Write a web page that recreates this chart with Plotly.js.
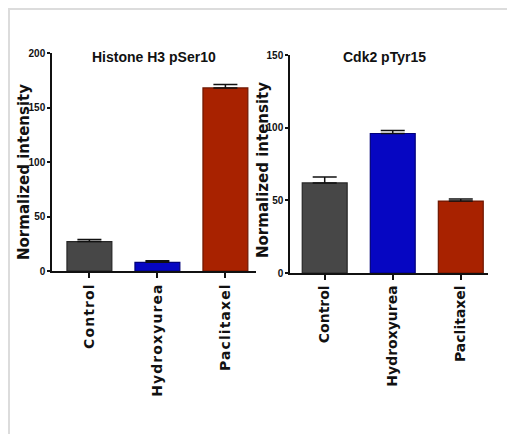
<!DOCTYPE html>
<html>
<head>
<meta charset="utf-8">
<script src="https://cdn.plot.ly/plotly-3.0.1.min.js"></script>
<style>
  html, body { margin: 0; padding: 0; background: #fff; }
  #wrap { position: relative; width: 507px; height: 434px; }
  #chart { width: 507px; height: 434px; }
  #frame { position: absolute; left: 8px; top: 8px; right: 0; bottom: 0;
           border-top: 2px solid #dcdcdc; border-left: 2px solid #dcdcdc; pointer-events: none; }
  #chart .xtick text { letter-spacing: 1.1px; }
</style>
</head>
<body>
<div id="wrap">
  <div id="chart"></div>
  <div id="frame"></div>
</div>
<script>
// Data
const categories = ["Control", "Hydroxyurea", "Paclitaxel"];
const barColors = ["#474747", "#0606c2", "#a82200"];
const lineColors = ["#262626", "#00007a", "#6e1600"];

const h3Title = "Histone H3 pSer10";
const h3Values = [27, 8, 168];
const h3Errors = [2, 1.5, 3];

const cdkTitle = "Cdk2 pTyr15";
const cdkValues = [62, 96, 49.5];
const cdkErrors = [4, 2, 1.5];

const yTitle = "Normalized intensity";
const h3Ticks = [0, 50, 100, 150, 200];
const cdkTicks = [0, 50, 100, 150];

function barTrace(values, errors, xa, ya) {
  return {
    type: "bar",
    x: categories,
    y: values,
    xaxis: xa, yaxis: ya,
    width: 0.66,
    marker: { color: barColors, line: { color: lineColors, width: 1.2 } },
    error_y: { type: "data", symmetric: false, array: errors,
               arrayminus: values.map(() => 0), color: "#111", thickness: 1.5, width: 12 },
    hoverinfo: "x+y",
    showlegend: false
  };
}

const tickFont = { family: "Liberation Sans, Arial, sans-serif", size: 10, color: "#111", weight: "bold" };
const catFont = { family: "DejaVu Sans, sans-serif", size: 14, color: "#111", weight: "bold" };
const yTitleFont = { family: "DejaVu Sans, sans-serif", size: 15, color: "#111", weight: "bold" };
const titleFont = { family: "Liberation Sans, Arial, sans-serif", size: 14, color: "#111", weight: "bold" };

function xAxis(domain, range, anchor) {
  return {
    domain: domain, range: range, anchor: anchor,
    type: "category",
    showline: true, linecolor: "#111", linewidth: 1.5,
    ticks: "outside", ticklen: 5, tickwidth: 1.5, tickcolor: "#111",
    tickangle: -90, tickfont: catFont,
    showgrid: false, zeroline: false, fixedrange: true
  };
}
function yAxis(domain, range, ticks, anchor) {
  return {
    domain: domain, range: range, anchor: anchor,
    tickvals: ticks, ticktext: ticks.map(String),
    showline: true, linecolor: "#111", linewidth: 1.5,
    ticks: "outside", ticklen: 3, tickwidth: 1.5, tickcolor: "#111",
    tickfont: tickFont,
    showgrid: false, zeroline: false, fixedrange: true
  };
}

const W = 507, H = 434;
const layout = {
  width: W, height: H,
  margin: { l: 0, r: 0, t: 0, b: 0 },
  paper_bgcolor: "#fff", plot_bgcolor: "#fff",
  xaxis: xAxis([52 / W, 256 / W], [-0.55, 2.45], "y"),
  yaxis: yAxis([1 - 271 / H, 1 - 53 / H], [0, 200], h3Ticks, "x"),
  xaxis2: xAxis([290 / W, 488 / W], [-0.51, 2.40], "y2"),
  yaxis2: yAxis([1 - 273 / H, 1 - 55 / H], [0, 150], cdkTicks, "x2"),
  annotations: [
    { text: h3Title, xref: "paper", yref: "paper", x: 154 / W, y: 1 - 57 / H,
      xanchor: "center", yanchor: "middle", showarrow: false, font: titleFont },
    { text: cdkTitle, xref: "paper", yref: "paper", x: 384 / W, y: 1 - 57 / H,
      xanchor: "center", yanchor: "middle", showarrow: false, font: titleFont },
    { text: yTitle, xref: "paper", yref: "paper", x: 24 / W, y: 1 - 172 / H,
      xanchor: "center", yanchor: "middle", textangle: -90, showarrow: false, font: yTitleFont },
    { text: yTitle, xref: "paper", yref: "paper", x: 263 / W, y: 1 - 170 / H,
      xanchor: "center", yanchor: "middle", textangle: -90, showarrow: false, font: yTitleFont }
  ]
};

Plotly.newPlot("chart", [
  barTrace(h3Values, h3Errors, "x", "y"),
  barTrace(cdkValues, cdkErrors, "x2", "y2")
], layout, { displayModeBar: false });
</script>
</body>
</html>
